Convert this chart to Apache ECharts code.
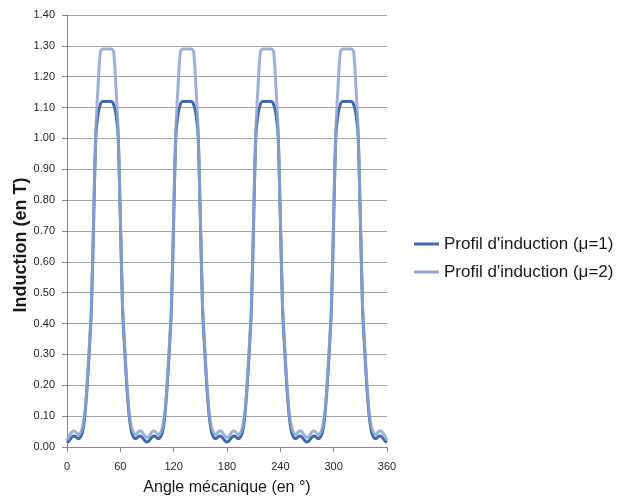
<!DOCTYPE html>
<html>
<head>
<meta charset="utf-8">
<script src="https://cdn.jsdelivr.net/npm/echarts@6/dist/echarts.min.js"></script>
<style>
html,body{margin:0;padding:0;background:#fff;}
#chart{width:623px;height:499px;}
</style>
</head>
<body>
<div id="chart"></div>
<script>
// Angles (degrees), step 2.5 from 0 to 360
var angles = [];
for (var i = 0; i <= 144; i++) angles.push(i * 2.5);

var seriesNames = ["Profil d'induction (\u03bc=1)", "Profil d'induction (\u03bc=2)"];
var yTitle = 'Induction (en T)';
var xTitle = 'Angle m\u00e9canique (en \u00b0)';

// Induction values (T), mu = 1
var induction1 = [
  0.014,0.021,0.030,0.036,0.033,0.027,0.032,0.050,0.10,0.19,0.31,0.45,0.74,1.01,1.08,1.11,1.12,1.12,
  1.12,1.12,1.12,1.11,1.08,1.01,0.74,0.45,0.31,0.19,0.10,0.050,0.032,0.027,0.033,0.036,0.030,0.021,
  0.016,0.021,0.030,0.036,0.033,0.027,0.032,0.050,0.10,0.19,0.31,0.45,0.74,1.01,1.08,1.11,1.12,1.12,
  1.12,1.12,1.12,1.11,1.08,1.01,0.74,0.45,0.31,0.19,0.10,0.050,0.032,0.027,0.033,0.036,0.030,0.021,
  0.016,0.021,0.030,0.036,0.033,0.027,0.032,0.050,0.10,0.19,0.31,0.45,0.74,1.01,1.08,1.11,1.12,1.12,
  1.12,1.12,1.12,1.11,1.08,1.01,0.74,0.45,0.31,0.19,0.10,0.050,0.032,0.027,0.033,0.036,0.030,0.021,
  0.016,0.021,0.030,0.036,0.033,0.027,0.032,0.050,0.10,0.19,0.31,0.45,0.74,1.01,1.08,1.11,1.12,1.12,
  1.12,1.12,1.12,1.11,1.08,1.01,0.74,0.45,0.31,0.19,0.10,0.050,0.032,0.027,0.033,0.036,0.030,0.021,
  0.014
];

// Induction values (T), mu = 2
var induction2 = [
  0.022,0.036,0.047,0.053,0.048,0.040,0.045,0.065,0.11,0.20,0.32,0.46,0.75,1.03,1.17,1.28,1.29,1.29,
  1.29,1.29,1.29,1.28,1.17,1.03,0.75,0.46,0.32,0.20,0.11,0.065,0.045,0.040,0.048,0.053,0.047,0.036,
  0.031,0.036,0.047,0.053,0.048,0.040,0.045,0.065,0.11,0.20,0.32,0.46,0.75,1.03,1.17,1.28,1.29,1.29,
  1.29,1.29,1.29,1.28,1.17,1.03,0.75,0.46,0.32,0.20,0.11,0.065,0.045,0.040,0.048,0.053,0.047,0.036,
  0.031,0.036,0.047,0.053,0.048,0.040,0.045,0.065,0.11,0.20,0.32,0.46,0.75,1.03,1.17,1.28,1.29,1.29,
  1.29,1.29,1.29,1.28,1.17,1.03,0.75,0.46,0.32,0.20,0.11,0.065,0.045,0.040,0.048,0.053,0.047,0.036,
  0.031,0.036,0.047,0.053,0.048,0.040,0.045,0.065,0.11,0.20,0.32,0.46,0.75,1.03,1.17,1.28,1.29,1.29,
  1.29,1.29,1.29,1.28,1.17,1.03,0.75,0.46,0.32,0.20,0.11,0.065,0.045,0.040,0.048,0.053,0.047,0.036,
  0.022
];

function pairs(xs, ys) {
  var out = [];
  for (var i = 0; i < xs.length; i++) out.push([xs[i], ys[i]]);
  return out;
}

var FONT = 'Liberation Sans, Arial, sans-serif';
var chart = echarts.init(document.getElementById('chart'), null, {renderer: 'canvas'});
chart.setOption({
  animation: false,
  backgroundColor: '#ffffff',
  grid: {left: 67, right: 236, top: 15, bottom: 52, outerBoundsMode: 'none', containLabel: false},
  graphic: [{
    type: 'text',
    x: 21,
    y: 245,
    rotation: Math.PI / 2,
    silent: true,
    style: {
      text: yTitle,
      font: 'bold 18px ' + FONT,
      fill: '#1a1a1a',
      align: 'center',
      verticalAlign: 'middle'
    }
  }],
  legend: {
    orient: 'vertical',
    left: 414,
    top: 235,
    padding: 0,
    icon: 'rect',
    itemWidth: 25,
    itemHeight: 3,
    itemGap: 10,
    textStyle: {fontFamily: FONT, fontSize: 17, color: '#1a1a1a', lineHeight: 18},
    data: seriesNames
  },
  xAxis: {
    type: 'value',
    min: 0, max: 360, interval: 60,
    name: xTitle,
    nameLocation: 'middle',
    nameGap: 33,
    nameTextStyle: {fontFamily: FONT, fontSize: 16, color: '#1a1a1a'},
    axisLine: {show: true, lineStyle: {color: '#868686', width: 1}},
    axisTick: {show: true, inside: false, length: 5, lineStyle: {color: '#868686'}},
    axisLabel: {fontFamily: FONT, fontSize: 11, color: '#262626', margin: 14},
    splitLine: {show: false}
  },
  yAxis: {
    type: 'value',
    min: 0, max: 1.4, interval: 0.1,
    axisLine: {show: true, lineStyle: {color: '#868686', width: 1}},
    axisTick: {show: true, inside: false, length: 5, lineStyle: {color: '#868686'}},
    axisLabel: {fontFamily: FONT, fontSize: 11, color: '#262626', margin: 12,
      formatter: function (v) { return v.toFixed(2); }},
    splitLine: {show: true, lineStyle: {color: '#a6a6a6', width: 1}}
  },
  series: [
    {
      name: seriesNames[0],
      type: 'line',
      data: pairs(angles, induction1),
      symbol: 'none',
      smooth: 0.3,
      lineStyle: {color: '#3d6aa8', width: 3},
      itemStyle: {color: '#3d6aa8'}
    },
    {
      name: seriesNames[1],
      type: 'line',
      data: pairs(angles, induction2),
      symbol: 'none',
      smooth: 0.3,
      lineStyle: {color: '#8aa6d3', width: 3, opacity: 0.85},
      itemStyle: {color: '#8aa6d3'}
    }
  ]
});
</script>
</body>
</html>
